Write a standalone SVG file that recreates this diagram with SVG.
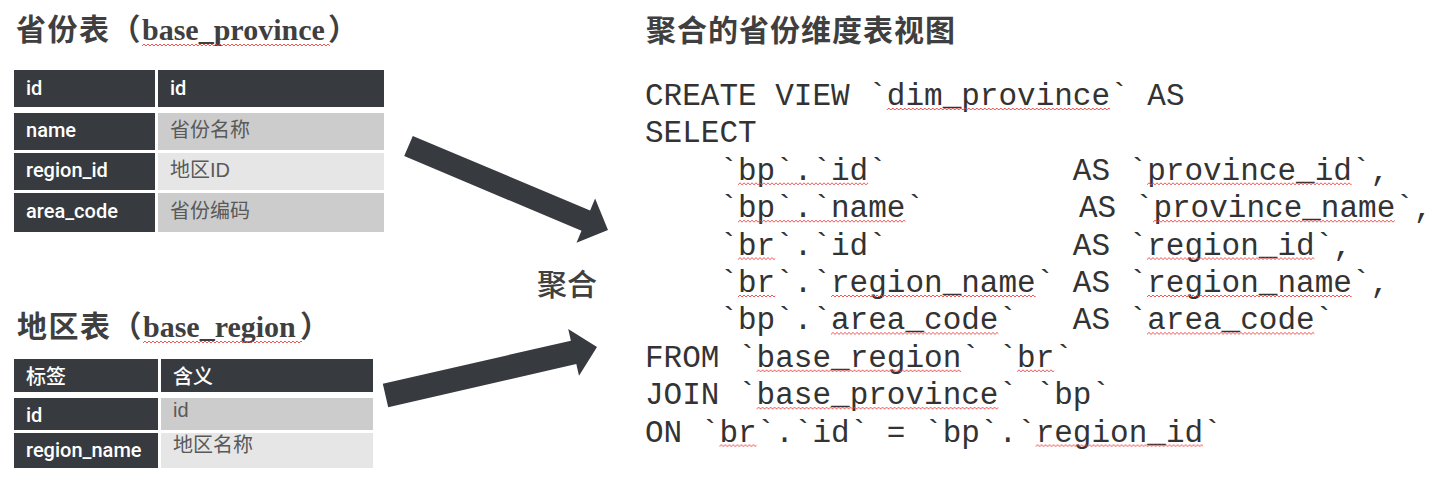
<svg xmlns="http://www.w3.org/2000/svg" width="1454" height="484" viewBox="0 0 1454 484">
<style>
.title-cjk{font-family:"Noto Sans CJK SC","Noto Sans",sans-serif;font-weight:700;font-size:30px;fill:#3f3f3f}
.title-lat{font-family:"Liberation Serif",serif;font-weight:700;font-size:30px;fill:#3f3f3f}
.dark{fill:#373b3f}
.lg{fill:#cccccc}
.xlg{fill:#e6e6e6}
.cw{font-family:Roboto,"Liberation Sans",sans-serif;font-size:20px;font-weight:500;fill:#ffffff}
.cwc{font-family:"Noto Sans CJK SC",sans-serif;font-size:20px;font-weight:500;fill:#ffffff}
.cg{font-family:"Liberation Sans","Noto Sans CJK SC",sans-serif;font-size:20px;fill:#595959}
.code{font-family:"Liberation Mono",monospace;font-size:31px;fill:#333333}
.lbl{font-family:"Noto Sans CJK SC",sans-serif;font-size:30px;font-weight:500;fill:#404040}
.arrow{fill:#373b3f}
.wv{fill:url(#wave)}
</style>
<defs>
<pattern id="wave" patternUnits="userSpaceOnUse" x="0" y="0" width="4" height="4">
<polyline points="0,3 2,1 4,3" fill="none" stroke="#ee4444" stroke-width="0.9"/>
</pattern>
</defs>
<rect width="1454" height="484" fill="#ffffff"/>

<g id="title-province">
<text x="16" y="39.5"><tspan class="title-cjk" letter-spacing="1.5">省份表（</tspan></text>
<text class="title-lat" x="142" y="39.5">base_province</text>
<text class="title-cjk" x="328" y="39.5">）</text>
<rect class="wv" transform="translate(142,43)" width="188" height="4"/>
</g>

<g id="table-province">
<rect class="dark" x="14" y="70" width="141" height="37"/>
<rect class="dark" x="158" y="70" width="226" height="37"/>
<rect class="dark" x="14" y="113" width="141" height="37"/>
<rect class="lg" x="158" y="113" width="226" height="37"/>
<rect class="dark" x="14" y="153" width="141" height="37"/>
<rect class="xlg" x="158" y="153" width="226" height="37"/>
<rect class="dark" x="14" y="193" width="141" height="39"/>
<rect class="lg" x="158" y="193" width="226" height="39"/>
<text class="cw" x="26" y="95">id</text>
<text class="cw" x="170" y="95">id</text>
<text class="cw" x="26" y="137">name</text>
<text class="cg" x="170" y="137">省份名称</text>
<text class="cw" x="26" y="177">region_id</text>
<text class="cg" x="170" y="177">地区ID</text>
<text class="cw" x="26" y="218">area_code</text>
<text class="cg" x="170" y="218">省份编码</text>
</g>

<g id="title-region">
<text x="17" y="337"><tspan class="title-cjk" letter-spacing="1.5">地区表（</tspan></text>
<text class="title-lat" x="143" y="337">base_region</text>
<text class="title-cjk" x="300" y="337">）</text>
<rect class="wv" transform="translate(143,340)" width="159" height="4"/>
</g>

<g id="table-region">
<rect class="dark" x="14" y="359" width="144" height="33"/>
<rect class="dark" x="161" y="359" width="212" height="33"/>
<rect class="dark" x="14" y="398" width="144" height="32"/>
<rect class="lg" x="161" y="398" width="212" height="32"/>
<rect class="dark" x="14" y="433" width="144" height="35"/>
<rect class="xlg" x="161" y="433" width="212" height="35"/>
<text class="cwc" x="26" y="384">标签</text>
<text class="cwc" x="173" y="384">含义</text>
<text class="cw" x="26" y="422">id</text>
<text class="cg" x="173" y="417">id</text>
<text class="cw" x="26" y="457">region_name</text>
<text class="cg" x="173" y="452">地区名称</text>
</g>

<g id="connectors">
<polygon class="arrow" points="412.8,135.9 590.1,210.6 595.1,198.6 608,230 576.5,242.8 581.5,230.8 404.2,156.1"/>
<polygon class="arrow" points="382.8,383.8 570.9,340.7 568.2,329.0 597,347 579.0,375.8 576.3,364.1 388.2,407.2"/>
</g>

<g id="label-aggregate">
<text class="lbl" x="537" y="295">聚合</text>
</g>

<g id="view-title">
<text class="title-cjk" x="646" y="41" letter-spacing="1">聚合的省份维度表视图</text>
</g>

<g id="sql-view">
<text class="code" x="645" y="105">CREATE VIEW `dim_province` AS</text>
<text class="code" x="645" y="142.4">SELECT</text>
<text class="code" x="719.4" y="179.8">`bp`.`id`</text>
<text class="code" x="1072.8" y="179.8">AS `province_id`,</text>
<text class="code" x="719.4" y="217.2">`bp`.`name`</text>
<text class="code" x="1079" y="217.2">AS `province_name`,</text>
<text class="code" x="719.4" y="254.6">`br`.`id`</text>
<text class="code" x="1072.8" y="254.6">AS `region_id`,</text>
<text class="code" x="719.4" y="292">`br`.`region_name`</text>
<text class="code" x="1072.8" y="292">AS `region_name`,</text>
<text class="code" x="719.4" y="329.4">`bp`.`area_code`</text>
<text class="code" x="1072.8" y="329.4">AS `area_code`</text>
<text class="code" x="645" y="366.8">FROM `base_region` `br`</text>
<text class="code" x="645" y="404.2">JOIN `base_province` `bp`</text>
<text class="code" x="645" y="441.6">ON `br`.`id` = `bp`.`region_id`</text>
<g id="spell-marks">
<rect class="wv" transform="translate(886.8,107)" width="223.2" height="4"/>
<rect class="wv" transform="translate(738,181.8)" width="130.2" height="4"/>
<rect class="wv" transform="translate(738,219.2)" width="167.4" height="4"/>
<rect class="wv" transform="translate(738,256.6)" width="37.2" height="4"/>
<rect class="wv" transform="translate(738,294)" width="37.2" height="4"/>
<rect class="wv" transform="translate(831,294)" width="204.6" height="4"/>
<rect class="wv" transform="translate(831,331.4)" width="167.4" height="4"/>
<rect class="wv" transform="translate(756.6,368.8)" width="204.6" height="4"/>
<rect class="wv" transform="translate(1017,368.8)" width="37.2" height="4"/>
<rect class="wv" transform="translate(756.6,406.2)" width="241.8" height="4"/>
<rect class="wv" transform="translate(719.4,443.6)" width="37.2" height="4"/>
<rect class="wv" transform="translate(1035.6,443.6)" width="167.4" height="4"/>
<rect class="wv" transform="translate(1147,181.8)" width="204.6" height="4"/>
<rect class="wv" transform="translate(1153,219.2)" width="241.8" height="4"/>
<rect class="wv" transform="translate(1147,256.6)" width="167.4" height="4"/>
<rect class="wv" transform="translate(1147,294)" width="204.6" height="4"/>
<rect class="wv" transform="translate(1147,331.4)" width="167.4" height="4"/>
</g>
</g>
</svg>
